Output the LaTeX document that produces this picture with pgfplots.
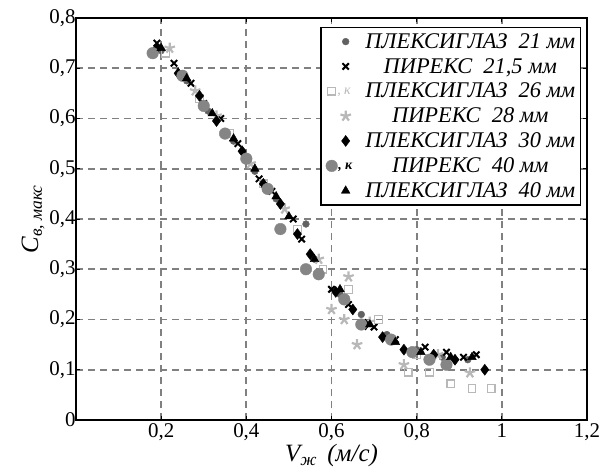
\documentclass[border=0pt]{standalone}
\usepackage{fontspec}
\setmainfont{Liberation Serif}
\usepackage{pgfplots}
\pgfplotsset{compat=1.18}
\definecolor{dg}{gray}{0.38}
\definecolor{mg}{gray}{0.52}
\definecolor{lg}{gray}{0.72}
\definecolor{gridc}{gray}{0.5}
\pgfplotsset{
  imgC/.style={legend image code/.code={\path (0,0) (38bp,0); \draw[##1] plot coordinates {(21bp,0)};}},
  imgSq/.style={legend image code/.code={\path (0,0) (38bp,0); \draw[##1] plot coordinates {(7bp,0)};
    \node[anchor=west, inner sep=0pt, text=lg, font=\itshape\fontsize{14}{15}\selectfont] at (12bp,-1bp) {,~к};}},
  imgCi/.style={legend image code/.code={\path (0,0) (38bp,0); \draw[##1] plot coordinates {(7bp,0)};
    \node[anchor=west, inner sep=0pt, text=black, font=\bfseries\itshape\fontsize{14}{15}\selectfont] at (13bp,-1bp) {,~к};}},
}
\begin{document}
\begin{tikzpicture}
\begin{axis}[
  scale only axis, width=511bp, height=402bp,
  xmin=0, xmax=1.2, ymin=0, ymax=0.8,
  xtick={0.2,0.4,0.6,0.8,1.0,1.2},
  ytick={0,0.1,0.2,0.3,0.4,0.5,0.6,0.7,0.8},
  grid=major,
  grid style={gridc, line width=1.7pt, dash pattern=on 7bp off 5bp},
  axis line style={line width=1.8pt},
  tick style={black, line width=0.8pt}, major tick length=4bp,
  /pgf/number format/assume math mode=true,
  /pgf/number format/use comma,
  ticklabel style={font=\fontsize{21}{23}\selectfont},
  yticklabel style={xshift=3bp},
  xticklabel style={yshift=0bp},
  xlabel={\itshape V\textsubscript{ж}\, (м/с)},
  ylabel={\itshape C\textsubscript{в, макс}},
  label style={font=\fontsize{25}{27}\selectfont},
  xlabel style={yshift=3bp},
  ylabel style={yshift=-2bp},
  legend style={at={(0.988,0.978)}, anchor=north east,
    font=\itshape\fontsize{22.5}{25}\selectfont,
    draw=black, line width=1.2pt, row sep=4.5bp,
    cells={anchor=center}, inner xsep=3bp, inner ysep=4bp},
]
\coordinate (SW) at (rel axis cs:0,0);
% 1 plexiglass 21 mm
\addplot[only marks, mark=*, mark size=3.4bp, mark options={fill=dg, draw=dg, line width=0.4pt}, imgC]
coordinates {(0.20,0.735) (0.26,0.675) (0.31,0.615) (0.37,0.555) (0.42,0.495) (0.47,0.44)
(0.54,0.39) (0.56,0.32) (0.62,0.25) (0.67,0.21) (0.73,0.17) (0.80,0.14) (0.86,0.125) (0.92,0.12)};
\addlegendentry{ПЛЕКСИГЛАЗ~~21 мм}
% 2 pyrex 21.5 mm
\addplot[only marks, mark=x, mark size=4.5bp, mark options={draw=black, line width=2pt}, imgC]
coordinates {(0.19,0.75) (0.23,0.71) (0.27,0.67) (0.30,0.63) (0.34,0.60) (0.38,0.55) (0.43,0.48)
(0.46,0.455) (0.51,0.40) (0.53,0.36) (0.60,0.26) (0.64,0.23) (0.70,0.185) (0.75,0.16)
(0.82,0.145) (0.87,0.135) (0.91,0.125) (0.94,0.13)};
\addlegendentry{ПИРЕКС~~21,5 мм}
% 3 plexiglass 26 mm
\addplot[only marks, mark=square, mark size=3.8bp, mark options={draw=lg, line width=1.2pt}, imgSq]
coordinates {(0.21,0.73) (0.29,0.64) (0.36,0.57) (0.44,0.47) (0.52,0.38) (0.58,0.30) (0.64,0.26)
(0.71,0.20) (0.80,0.13) (0.78,0.095) (0.83,0.095) (0.88,0.072) (0.93,0.063) (0.975,0.063)};
\addlegendentry{ПЛЕКСИГЛАЗ~~26 мм}
% 4 pyrex 28 mm
\addplot[only marks, mark=star, mark size=5.5bp, mark options={draw=lg, fill=lg, line width=2.2pt}, imgC]
coordinates {(0.22,0.74) (0.28,0.655) (0.33,0.605) (0.41,0.51) (0.49,0.42) (0.57,0.32) (0.60,0.22)
(0.63,0.20) (0.66,0.15) (0.64,0.285) (0.69,0.195) (0.77,0.11) (0.85,0.13) (0.925,0.094)};
\addlegendentry{ПИРЕКС~~28 мм}
% 5 plexiglass 30 mm
\addplot[only marks, mark=diamond*, mark size=5.5bp, mark options={draw=black, fill=black, line width=0.4pt}, imgC]
coordinates {(0.19,0.74) (0.24,0.69) (0.29,0.645) (0.33,0.595) (0.39,0.535) (0.44,0.47) (0.48,0.43)
(0.52,0.37) (0.55,0.33) (0.61,0.255) (0.65,0.22) (0.68,0.19) (0.72,0.165) (0.77,0.14)
(0.84,0.13) (0.89,0.12) (0.96,0.10)};
\addlegendentry{ПЛЕКСИГЛАЗ~~30 мм}
% 6 pyrex 40 mm
\addplot[only marks, mark=*, mark size=5.8bp, mark options={fill=mg, draw=mg, line width=0.4pt}, imgCi]
coordinates {(0.18,0.73) (0.25,0.685) (0.30,0.625) (0.35,0.57) (0.40,0.52) (0.45,0.46) (0.48,0.38)
(0.54,0.30) (0.57,0.29) (0.63,0.24) (0.67,0.19) (0.74,0.16) (0.79,0.135) (0.83,0.12) (0.87,0.11)};
\addlegendentry{ПИРЕКС~~40 мм}
% 7 plexiglass 40 mm
\addplot[only marks, mark=triangle*, mark size=5bp, mark options={draw=black, fill=black, line width=0.4pt}, imgC]
coordinates {(0.20,0.74) (0.26,0.68) (0.32,0.61) (0.37,0.56) (0.42,0.50) (0.47,0.445) (0.50,0.405)
(0.56,0.32) (0.62,0.26) (0.69,0.19) (0.75,0.155) (0.81,0.135) (0.88,0.125) (0.93,0.125)};
\addlegendentry{ПЛЕКСИГЛАЗ~~40 мм}
\end{axis}
\pgfresetboundingbox
\path (SW) ++(-76bp,-49bp) rectangle ++(599bp,469bp);
\end{tikzpicture}
\end{document}
